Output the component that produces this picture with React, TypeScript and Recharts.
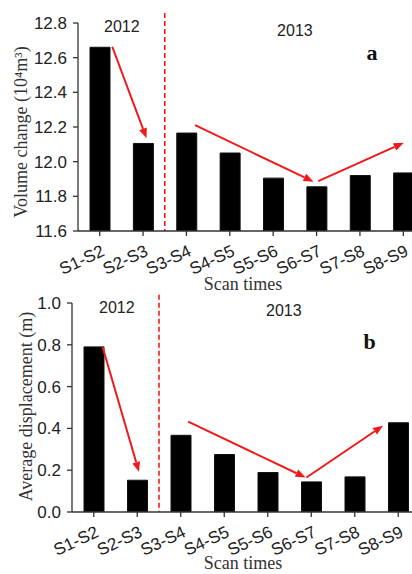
import React from 'react';
import { BarChart, Bar, XAxis, YAxis, ReferenceLine, ReferenceDot } from 'recharts';

const categories = ['S1-S2', 'S2-S3', 'S3-S4', 'S4-S5', 'S5-S6', 'S6-S7', 'S7-S8', 'S8-S9'];
const volume = [12.66, 12.105, 12.165, 12.05, 11.905, 11.855, 11.92, 11.935];
const displacement = [0.79, 0.152, 0.367, 0.275, 0.189, 0.144, 0.168, 0.427];
const volumeTicks = [11.6, 11.8, 12.0, 12.2, 12.4, 12.6, 12.8];
const dispTicks = [0, 0.2, 0.4, 0.6, 0.8, 1.0];
const catTicks = categories.map((_, i) => i + 0.5);

// arrows in data coords: [x1, y1, x2, y2]
const volumeArrows = [
  [0.79, 12.663, 1.58, 12.135],
  [2.7, 12.211, 5.43, 11.884],
  [5.54, 11.888, 7.51, 12.109],
];
const dispArrows = [
  [0.7, 0.792, 1.54, 0.192],
  [2.67, 0.432, 5.37, 0.165],
  [5.39, 0.165, 7.15, 0.413],
];

const RED = '#f01818';
const SANS = '"Liberation Sans", Arial, sans-serif';
const SERIF = '"Liberation Serif", "Times New Roman", serif';

const volumeRows = categories.map((name, i) => ({ pos: i + 0.5, name, value: volume[i] }));
const dispRows = categories.map((name, i) => ({ pos: i + 0.5, name, value: displacement[i] }));

const Arrow = (props: any) => {
  const { x1, y1, x2, y2 } = props;
  const dx = x2 - x1;
  const dy = y2 - y1;
  const len = Math.sqrt(dx * dx + dy * dy) || 1;
  const ux = dx / len;
  const uy = dy / len;
  const head = 10;
  const half = 4;
  const bx = x2 - ux * head;
  const by = y2 - uy * head;
  const pts = `${x2},${y2} ${bx - uy * half},${by + ux * half} ${bx + uy * half},${by - ux * half}`;
  return (
    <g>
      <line x1={x1} y1={y1} x2={bx} y2={by} stroke={RED} strokeWidth={2} />
      <polygon points={pts} fill={RED} />
    </g>
  );
};

const XTick = (props: any) => {
  const { x, y, payload } = props;
  const label = categories[Math.floor(payload.value)];
  return (
    <g transform={`translate(${x + 6},${y + 17})`}>
      <text x={0} y={0} textAnchor="end" transform="rotate(-25)" fontSize={17} fontFamily={SANS} fill="#222">
        {label}
      </text>
    </g>
  );
};

const yLabel = (text: string, bx: number, dy: number) => (props: any) => {
  const vb = props.viewBox;
  const cy = vb.y + vb.height / 2 + dy;
  return (
    <text x={bx} y={cy} transform={`rotate(-90 ${bx} ${cy})`} textAnchor="middle" fontSize={18} fontFamily={SERIF} fill="#333">
      {text}
    </text>
  );
};

const xLabel = (cx: number, dy: number) => (props: any) => {
  const vb = props.viewBox;
  return (
    <text x={cx} y={vb.y + dy} textAnchor="middle" fontSize={18} fontFamily={SERIF} fill="#333">
      Scan times
    </text>
  );
};

type PanelProps = {
  rows: any[];
  domain: [number, number];
  ticks: number[];
  arrows: number[][];
  yAxisWidth: number;
  rightMargin: number;
  height: number;
  xAxisHeight: number;
  xTitleDy: number;
  yTitle: string;
  titleX: number;
  titleDy: number;
  divider: [number, number];
  y2012: [number, number];
  y2013: [number, number];
  letter: string;
  letterPos: [number, number];
};

const Panel = (p: PanelProps) => (
  <BarChart
    width={440}
    height={p.height}
    data={p.rows}
    margin={{ top: 23, right: p.rightMargin, bottom: 0, left: 0 }}
  >
    <XAxis
      dataKey="pos"
      type="number"
      domain={[0, 8]}
      ticks={catTicks}
      allowDataOverflow
      interval={0}
      height={p.xAxisHeight}
      stroke="#333"
      strokeWidth={1.3}
      tickSize={5}
      tick={<XTick />}
      label={{ content: xLabel(243, p.xTitleDy) }}
    />
    <YAxis
      domain={p.domain}
      ticks={p.ticks}
      allowDataOverflow
      width={p.yAxisWidth}
      stroke="#333"
      strokeWidth={1.3}
      tickSize={5}
      tickMargin={6}
      tickFormatter={(v: number) => v.toFixed(1)}
      tick={{ fill: '#222', fontSize: 17, fontFamily: SANS }}
      label={{ content: yLabel(p.yTitle, p.titleX, p.titleDy) }}
    />
    <Bar dataKey="value" barSize={20} fill="#000" stroke="#111" isAnimationActive={false} />
    <ReferenceLine
      segment={[{ x: 2, y: p.divider[0] }, { x: 2, y: p.divider[1] }]}
      stroke={RED}
      strokeWidth={1.6}
      strokeDasharray="5 3"
      ifOverflow="visible"
    />
    {p.arrows.map((a, i) => (
      <ReferenceLine
        key={i}
        segment={[{ x: a[0], y: a[1] }, { x: a[2], y: a[3] }]}
        ifOverflow="visible"
        shape={Arrow}
      />
    ))}
    <ReferenceDot x={p.y2012[0]} y={p.y2012[1]} r={0} fill="none" stroke="none" ifOverflow="visible"
      label={{ value: '2012', position: 'center', fontSize: 16, fontFamily: SANS, fill: '#222' }} />
    <ReferenceDot x={p.y2013[0]} y={p.y2013[1]} r={0} fill="none" stroke="none" ifOverflow="visible"
      label={{ value: '2013', position: 'center', fontSize: 16, fontFamily: SANS, fill: '#222' }} />
    <ReferenceDot x={p.letterPos[0]} y={p.letterPos[1]} r={0} fill="none" stroke="none" ifOverflow="visible"
      label={{ value: p.letter, position: 'center', fontSize: 22, fontWeight: 'bold', fontFamily: SERIF, fill: '#111' }} />
  </BarChart>
);

export default function App() {
  return (
    <div style={{ position: 'absolute', left: 0, top: 0, width: 412, height: 574, overflow: 'hidden', background: '#fff' }}>
      <div style={{ position: 'absolute', left: 0, top: 0 }}>
        <Panel
          rows={volumeRows}
          domain={[11.6, 12.8]}
          ticks={volumeTicks}
          arrows={volumeArrows}
          yAxisWidth={78}
          rightMargin={15}
          height={300}
          xAxisHeight={69}
          xTitleDy={59}
          yTitle="Volume change (10⁴m³)"
          titleX={27}
          titleDy={5}
          divider={[12.858, 11.6]}
          y2012={[1.01, 12.783]}
          y2013={[5.0, 12.76]}
          letter="a"
          letterPos={[6.78, 12.634]}
        />
      </div>
      <div style={{ position: 'absolute', left: 0, top: 280 }}>
        <Panel
          rows={dispRows}
          domain={[0, 1.0]}
          ticks={dispTicks}
          arrows={dispArrows}
          yAxisWidth={72}
          rightMargin={20}
          height={294}
          xAxisHeight={62}
          xTitleDy={57}
          yTitle="Average displacement (m)"
          titleX={32}
          titleDy={-1}
          divider={[1.04, 0]}
          y2012={[1.03, 0.978]}
          y2013={[4.87, 0.965]}
          letter="b"
          letterPos={[6.84, 0.816]}
        />
      </div>
    </div>
  );
}
